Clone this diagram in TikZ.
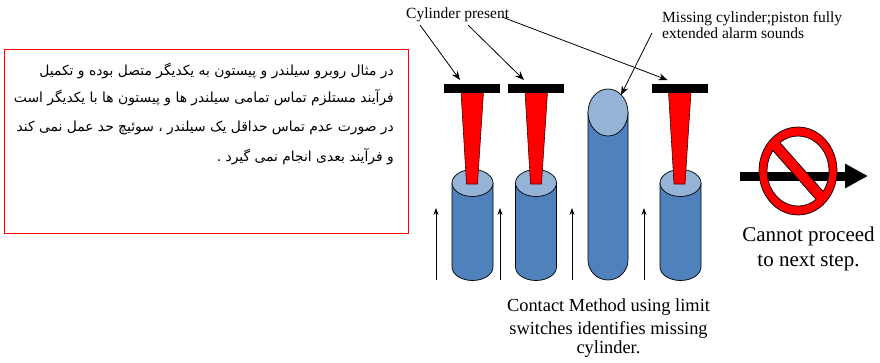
\documentclass[tikz,border=0pt]{standalone}
\usepackage{fontspec}
\setmainfont{Liberation Serif}
\newfontfamily\farsi[Script=Arabic]{DejaVu Sans}
\TeXXeTstate=1
\usetikzlibrary{arrows.meta,shapes.geometric}

\definecolor{pistonblue}{HTML}{4F81BD}
\definecolor{pistontop}{HTML}{95B3D7}

\tikzset{
  switchbar/.style={fill=black},
  beam/.style={fill=red, draw=black!75!red, line width=0.6pt},
  cylbody/.style={fill=pistonblue, draw=black, line width=0.7pt},
  cyltop/.style={fill=pistontop, draw=black, line width=0.7pt},
  callout/.style={-{Stealth[length=9pt,width=7pt]}, line width=0.8pt},
  travel/.style={-{Stealth[length=7pt,width=5pt]}, line width=0.8pt},
  label/.style={inner sep=0pt, font=\fontsize{15.5}{18}\selectfont},
  caption/.style={inner sep=0pt, font=\fontsize{18.4}{22}\selectfont},
  bigcaption/.style={inner sep=0pt, font=\fontsize{21}{26}\selectfont},
  farsiline/.style={inner sep=0pt, anchor=east, text height=11pt, text depth=3.5pt,
    font=\fontsize{13.85}{18}\farsi},
}

\begin{document}
\begin{tikzpicture}[x=1pt, y=-1pt]
\useasboundingbox (0,0) rectangle (880,362);

% explanatory note
\node[draw=red, line width=0.6pt, minimum width=404pt, minimum height=184pt, inner sep=0pt] (note) at (206,141) {};
\node[farsiline] (n1) at (394,71.7) {\beginR در مثال روبرو سیلندر و پیستون به یکدیگر متصل بوده و تکمیل\endR};
\node[farsiline] (n2) at (394,98.6) {\beginR فرآیند مستلزم تماس تمامی سیلندر ها و پیستون ها با یکدیگر است\endR};
\node[farsiline] (n3) at (394,127.3) {\beginR در صورت عدم تماس حداقل یک سیلندر ، سوئیچ حد عمل نمی کند\endR};
\node[farsiline] (n4) at (394,157.5) {\beginR و فرآیند بعدی انجام نمی گیرد .\endR};

% cylinders seated under their switches
\foreach \cx/\nm in {472.5/c1, 536/c2, 680.5/c4}{
  \path[cylbody] (\cx-20.5,183) -- (\cx-20.5,267)
    arc[start angle=180, end angle=0, x radius=20.5, y radius=13.5]
    -- (\cx+20.5,183) -- cycle;
  \path[cyltop] (\cx,183) ellipse [x radius=20.5, y radius=13.5];
  \coordinate (\nm) at (\cx,183);
}

% fully extended piston where the cylinder is missing
\path[cylbody] (588,112) -- (588,260)
  arc[start angle=180, end angle=0, x radius=20, y radius=20] -- (628,112) -- cycle;
\node[cyltop, ellipse, minimum width=40pt, minimum height=47pt, inner sep=0pt] (head) at (608,112.5) {};

% limit switches: plunger and mounting bar
\foreach \cx/\nm in {472/s1, 536/s2, 679.5/s4}{
  \path[beam] (\cx-11,92) -- (\cx+11.5,92) -- (\cx+5.5,184) -- (\cx-5.5,184) -- cycle;
  \path[switchbar] (\cx-28,84) rectangle (\cx+28,92.5);
  \coordinate (\nm) at (\cx-12,80);
}

% travel arrows between cylinders
\foreach \px/\nm in {436/t1, 500/t2, 572/t3, 644/t4}{
  \coordinate (\nm a) at (\px,280);
  \coordinate (\nm b) at (\px,208);
  \draw[travel] (\nm a) -- (\nm b);
}

% labels and their pointers
\node[label, anchor=base west] (present) at (406,18.5) {Cylinder present};
\node[label, anchor=base west] (miss1) at (662,22) {Missing cylinder;piston fully};
\node[label, anchor=base west] (miss2) at (662,38.5) {extended alarm sounds};

\coordinate (p1) at (420,25);
\coordinate (p2) at (468,25);
\coordinate (p3) at (502,17);
\coordinate (m1) at (652,33);
\coordinate (m2) at (621,95);
\draw[callout] (p1) -- (s1);
\draw[callout] (p2) -- (s2);
\draw[callout] (p3) -- (s4);
\draw[callout] (m1) -- (m2);

% blocked next step
\coordinate (go1) at (740,176);
\coordinate (go2) at (868,176);
\draw[line width=9pt, -{Triangle[length=23pt,width=23pt]}] (go1) -- (go2);
\begin{scope}[shift={(798,171)}, yscale=1.128]
  \filldraw[fill=red, draw=black, line width=0.7pt, even odd rule]
    (0,0) circle (39)
    (25.17,18.09) arc[start angle=35.71, end angle=-125.71, radius=31] -- cycle
    (18.09,25.17) arc[start angle=54.29, end angle=215.71, radius=31] -- cycle;
\end{scope}

\node[bigcaption, anchor=base] (stop1) at (808.5,241.7) {Cannot proceed};
\node[bigcaption, anchor=base] (stop2) at (808.5,266.7) {to next step.};

\node[caption, anchor=base] (cm1) at (608.5,311.7) {Contact Method using limit};
\node[caption, anchor=base] (cm2) at (608.5,334.5) {switches identifies missing};
\node[caption, anchor=base] (cm3) at (608.5,353.5) {cylinder.};
\end{tikzpicture}
\end{document}
